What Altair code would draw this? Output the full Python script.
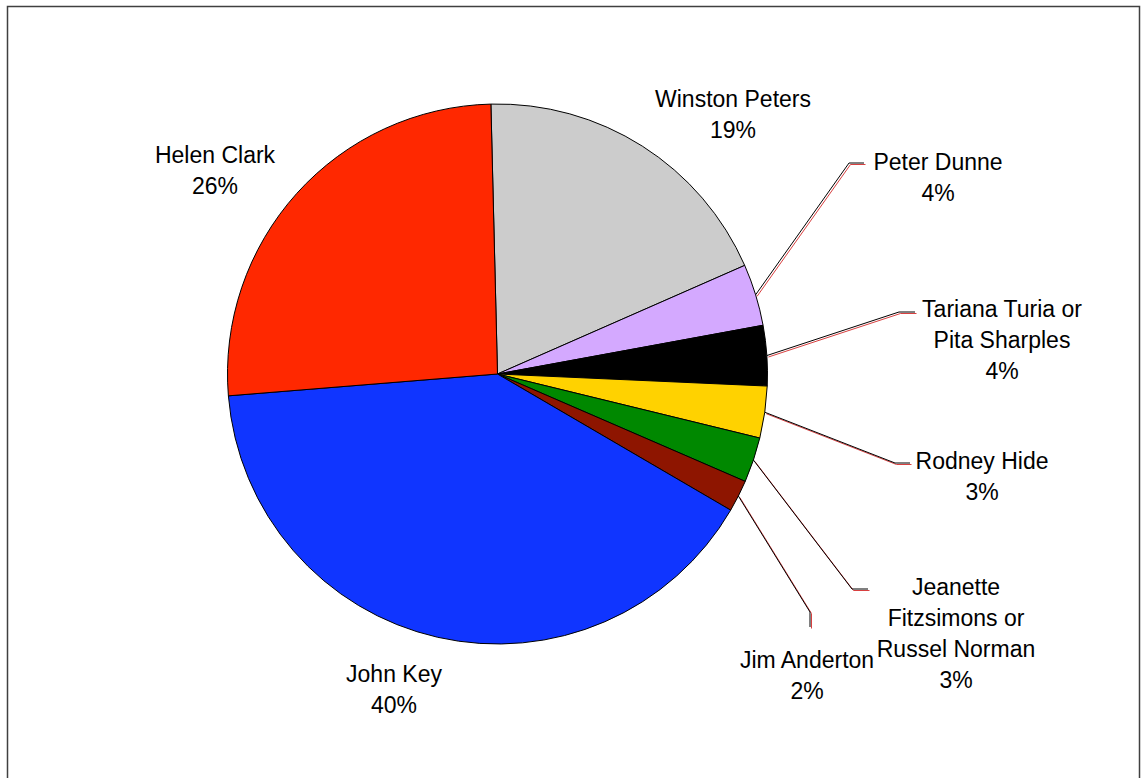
import math
import altair as alt
import pandas as pd

# ---------------- data ----------------
NAMES = [
    "Winston Peters",
    "Peter Dunne",
    "Tariana Turia or\nPita Sharples",
    "Rodney Hide",
    "Jeanette\nFitzsimons or\nRussel Norman",
    "Jim Anderton",
    "John Key",
    "Helen Clark",
]
SHARES = [18.8, 3.7, 3.6, 3.1, 2.7, 1.9, 40.3, 25.9]
COLORS = ["#CCCCCC", "#D4A9FF", "#000000", "#FFD200", "#008800", "#8E1500", "#1035FF", "#FF2800"]

# ---------------- layout (pixels) ----------------
W, H = 1147, 778
CX, CY, R = 497.5, 374, 270
START = math.radians(-1.4)
# label centre, relative to the pie centre
LABEL_DX = [235.5, 440.5, 504.5, 484.5, 458.5, 309.5, -103.5, -282.5]
LABEL_DY = [-274, -211.5, -64.5, 87.5, 213.5, 287, 301, -218.5]
# leader lines: end point (relative to pie centre) and elbow offset from that end
HAS_LEADER = [0, 1, 1, 1, 1, 1, 0, 0]
LEAD_DX = [0, 366.5, 417.5, 412.5, 370.5, 312.5, 0, 0]
LEAD_DY = [0, -211, -62, 89, 215, 253, 0, 0]
ELBOW_DX = [0, -15, -16, -15, -16, 0, 0, 0]
ELBOW_DY = [0, 0, 0, 0, 0, -15, 0, 0]

df = pd.DataFrame({
    "idx": list(range(len(NAMES))),
    "name": NAMES,
    "share": SHARES,
    "ldx": LABEL_DX,
    "ldy": LABEL_DY,
    "lead": HAS_LEADER,
    "edx": LEAD_DX,
    "edy": LEAD_DY,
    "bdx": ELBOW_DX,
    "bdy": ELBOW_DY,
})

xs = alt.Scale(domain=[0, W], nice=False, zero=False)
ys = alt.Scale(domain=[0, H], nice=False, zero=False, reverse=True)

pie = alt.Chart(df).mark_arc(outerRadius=R, stroke="black", strokeWidth=1).encode(
    theta=alt.Theta("share:Q", stack=True, scale=alt.Scale(range=[START, START + 2 * math.pi])),
    color=alt.Color("name:N", scale=alt.Scale(domain=NAMES, range=COLORS), legend=None),
    order=alt.Order("idx:Q"),
    x=alt.value(CX),
    y=alt.value(CY),
)

base = (
    alt.Chart(df)
    .transform_joinaggregate(total="sum(share)")
    .transform_window(cum="sum(share)", sort=[alt.SortField("idx")])
    .transform_calculate(
        mid=f"{START} + 2*PI*(datum.cum - datum.share/2)/datum.total",
    )
    .transform_calculate(
        sx=f"{CX} + {R}*sin(datum.mid)",
        sy=f"{CY} - {R}*cos(datum.mid)",
        ex=f"{CX} + datum.edx",
        ey=f"{CY} + datum.edy",
        lx=f"{CX} + datum.ldx",
        ly=f"{CY} + datum.ldy",
        label="datum.name + '\\n' + round(100*datum.share/datum.total) + '%'",
    )
    .transform_calculate(
        bx="datum.ex + datum.bdx",
        by="datum.ey + datum.bdy",
    )
)

leaders = base.transform_filter("datum.lead == 1")


def seg(color, off, a, b, c, d):
    return leaders.transform_calculate(
        p1=f"datum.{a} + {off}", q1=f"datum.{b} + {off}",
        p2=f"datum.{c} + {off}", q2=f"datum.{d} + {off}",
    ).mark_rule(color=color, strokeWidth=1).encode(
        x=alt.X("p1:Q", scale=xs, axis=None),
        y=alt.Y("q1:Q", scale=ys, axis=None),
        x2="p2:Q",
        y2="q2:Q",
    )


lines = [
    seg("#D84040", 1.5, "sx", "sy", "bx", "by"),
    seg("#D84040", 1.5, "bx", "by", "ex", "ey"),
    seg("black", 0, "sx", "sy", "bx", "by"),
    seg("black", 0, "bx", "by", "ex", "ey"),
]

labels = base.mark_text(
    font="Liberation Sans", fontSize=23, lineHeight=31, lineBreak="\n",
    align="center", baseline="middle", color="black",
).encode(
    x=alt.X("lx:Q", scale=xs, axis=None),
    y=alt.Y("ly:Q", scale=ys, axis=None),
    text="label:N",
)

frame = alt.Chart(pd.DataFrame({"a": [0]})).mark_rect(
    filled=False, stroke="#404040", strokeWidth=1.5
).encode(
    x=alt.value(7.5), y=alt.value(6.5), x2=alt.value(1139.5), y2=alt.value(800)
)

chart = alt.layer(frame, pie, *lines, labels).properties(
    width=W, height=H, padding=0,
    autosize=alt.AutoSizeParams(type="none"),
).configure_view(strokeWidth=0)

chart.save("out.html", embed_options={"renderer": "svg", "actions": False})
